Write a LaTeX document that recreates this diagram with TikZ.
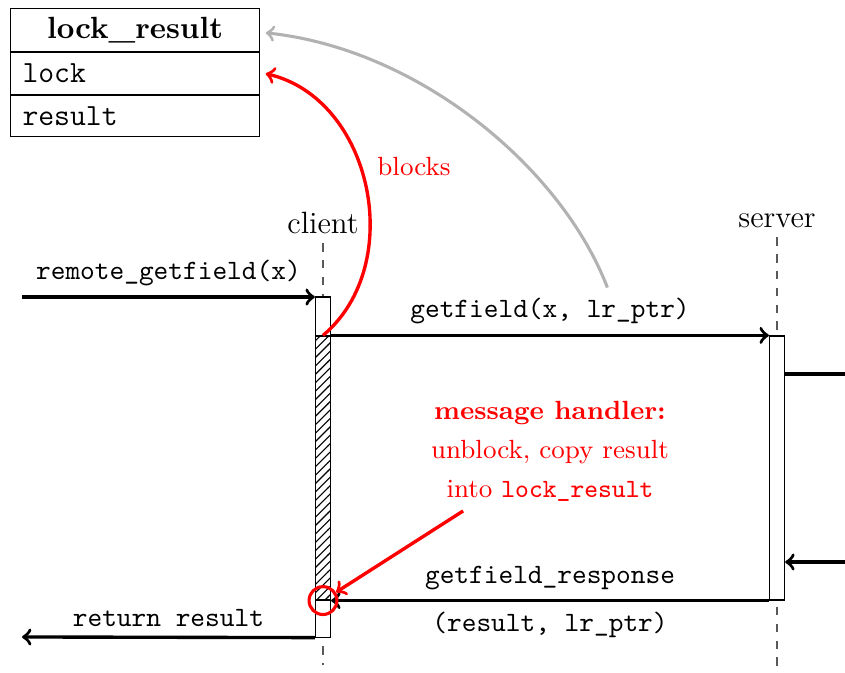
\documentclass[tikz,border=0pt]{standalone}
\usepackage{tikz}
\usetikzlibrary{positioning}
\usetikzlibrary{patterns}

\begin{document}
\begin{tikzpicture}[
		msg/.style={->, line width=1.2pt},
		lifeline/.style={dashed, black!65},
		actbox/.style={draw, fill=white, minimum width=0.19cm, inner sep=0pt},
		cell/.style={draw, anchor=north west, text width=2.825cm, inner xsep=0.15cm, inner ysep=0pt,
			font=\fontsize{11}{13}\selectfont\ttfamily, align=left}]
	\useasboundingbox (0,0) rectangle (10.606,-8.447);

	\node[cell, align=center, minimum height=0.54cm, font=\fontsize{10.95}{13}\selectfont\bfseries] (hdr) at (0.1255,-0.1) {lock\_result};
	\node[cell, minimum height=0.527cm, below=0pt of hdr] (lockrow) {lock};
	\node[cell, minimum height=0.515cm, below=0pt of lockrow] (resrow) {result};

	\begin{scope}[every node/.style={font=\fontsize{11}{13}\selectfont}]
		\node (client) at (4.054,-2.793) {client};
		\node (server) at (9.753,-2.768) {server};
	\end{scope}
	\coordinate (clientend) at (4.054,-8.35);
	\coordinate (serverend) at (9.753,-8.55);
	\draw[lifeline] (client) -- (clientend);
	\draw[lifeline] (server) -- (serverend);

	\node[actbox, minimum height=4.268cm] (cbox) at (4.054,-5.862) {};
	\node[actbox, minimum height=3.314cm, pattern=north east lines] (hatch) at (4.054,-5.874) {};
	\node[actbox, minimum height=3.314cm] (sbox) at (9.753,-5.874) {};

	\coordinate (caller) at (0.276,-3.728);
	\coordinate (retend) at (0.276,-7.995);
	\coordinate (srvout) at (10.9,-4.694);
	\coordinate (srvin) at (10.9,-7.054);
	\begin{scope}[every node/.style={font=\ttfamily}]
		\draw[msg] (caller) -- node[above] {remote\_getfield(x)} (caller -| cbox.west);
		\draw[msg] (hatch.north east) -- node[above] (gflbl) {getfield(x, lr\_ptr)} (sbox.north west);
		\draw[line width=1.2pt] (sbox.east |- srvout) -- (srvout);
		\draw[msg] (srvin) -- (sbox.east |- srvin);
		\draw[msg] (sbox.south west) -- node[above] {getfield\_response} node[below] {(result, lr\_ptr)} (hatch.south east);
		\draw[msg] (cbox.south west) -- node[above] {return result} (retend);
	\end{scope}

	\draw[->, line width=1.1pt, black!30] ([xshift=0.72cm]gflbl.north) to[out=111, in=-6, out looseness=0.77, in looseness=0.93] ([xshift=2pt,yshift=-1pt]hdr.east);

	\begin{scope}[red, every node/.style={font=\fontsize{9.4}{13.9}\selectfont}]
		\node[align=center] (handler) at (6.903,-5.661) {\textbf{message handler:}\\unblock, copy result\\into \texttt{lock\_result}};
		\node (blk) at (5.196,-2.096) {blocks};
		\node[circle, draw, line width=1.1pt, minimum size=0.35cm, inner sep=0pt] (wake) at (hatch.south) {};
		\draw[msg] ([xshift=-1.09cm]handler.south) -- (wake);
		\draw[msg] (hatch.north) to[out=40, in=-13, looseness=1.05] ([xshift=2pt]lockrow.east);
	\end{scope}
\end{tikzpicture}
\end{document}
